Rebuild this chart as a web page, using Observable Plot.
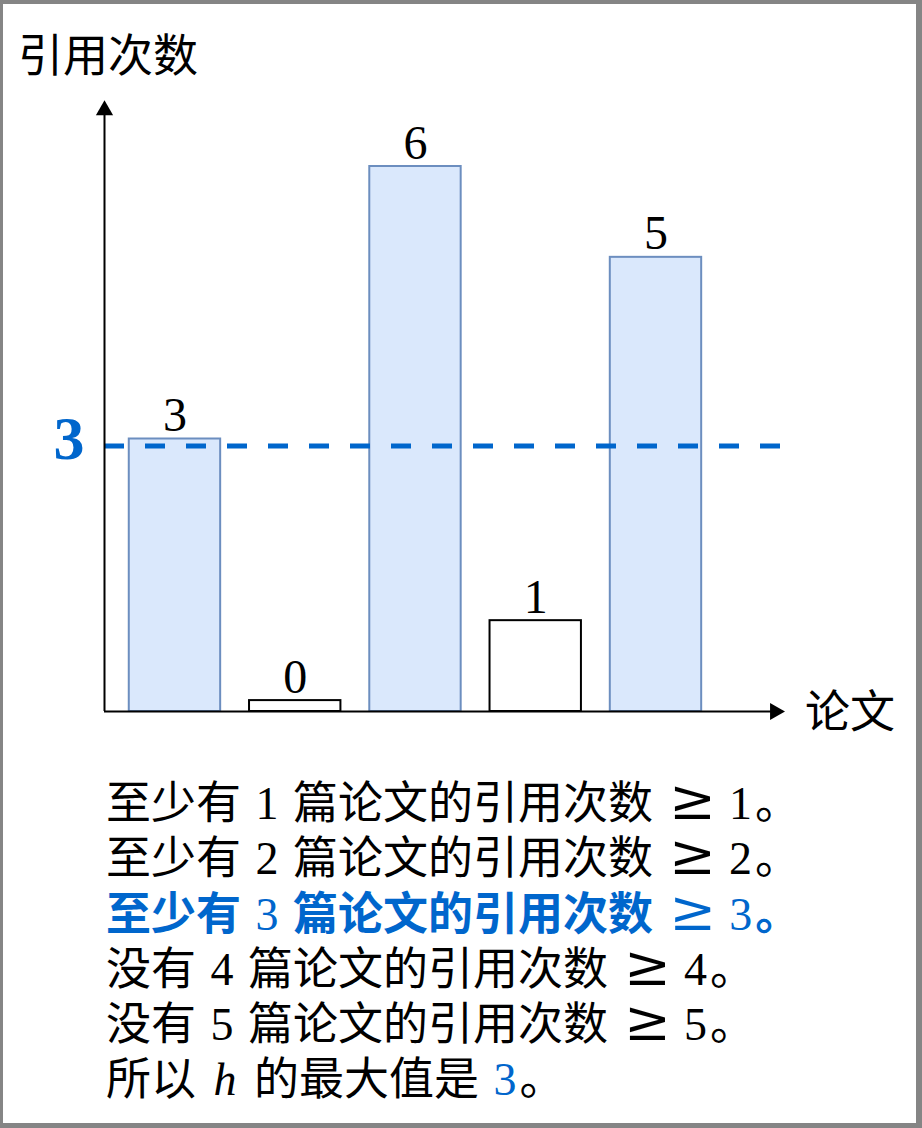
<!DOCTYPE html>
<html><head><meta charset="utf-8">
<script src="https://cdn.jsdelivr.net/npm/d3@7"></script>
<script src="https://cdn.jsdelivr.net/npm/@observablehq/plot@0.6"></script>
<style>
html,body{margin:0;padding:0;}
body{width:922px;height:1128px;background:#858585;position:relative;overflow:hidden;font-family:"Noto Sans CJK SC","Noto Sans",sans-serif;color:#000;}
#page{position:absolute;left:3px;top:4px;width:913px;height:1119px;background:#fff;}
#chart{position:absolute;left:0;top:0;}
.lbl{position:absolute;font-size:45px;line-height:45px;white-space:nowrap;}
#lines{position:absolute;left:106px;top:772px;font-size:45px;}
#lines .ln{height:55.3px;line-height:55.3px;white-space:nowrap;}
.num{font-family:"Liberation Serif","DejaVu Serif",serif;font-size:46px;font-weight:normal;margin:0 3px;line-height:40px;}
.ge{font-family:"DejaVu Serif","Liberation Serif",serif;font-size:56px;font-weight:normal;margin:0 10px 0 6px;line-height:40px;}
.it{font-style:italic;margin:0 6px;}
.hl{color:#0066cc;font-weight:bold;}
.blue{color:#0066cc;}
</style>
</head><body>
<div id="page"></div>
<div id="chart"></div>
<div class="lbl" id="ytitle" style="left:18px;top:30px;">引用次数</div>
<div class="lbl" id="xtitle" style="left:805px;top:686px;">论文</div>
<div id="lines"></div>
<script>
// ---- data ----
const papers = [1, 2, 3, 4, 5];
const citations = [3, 0, 6, 1, 5];
const hValue = 3;
const checkValues = [1, 2, 3, 4, 5];

const data = papers.map((p, i) => ({p, c: citations[i]}));
const blue = "#0066cc";
const serif = "'Liberation Serif','DejaVu Serif',serif";
const xMin = 0.414, xMax = 6.077, xHead = 5.99, yHead = 6.62;
const minBar = 0.12;

const chart = Plot.plot({
  width: 922, height: 760,
  marginLeft: 104, marginRight: 137, marginTop: 166, marginBottom: 49,
  x: {domain: [xMin, xMax], axis: null},
  y: {domain: [0, 6], axis: null},
  color: {type: "identity"},
  style: {background: "transparent", overflow: "visible"},
  marks: [
    Plot.rect(data, {
      x1: d => d.p - 0.38, x2: d => d.p + 0.38,
      y1: 0, y2: d => Math.max(d.c, minBar),
      fill: d => d.c >= hValue ? "#dae8fc" : "#ffffff",
      stroke: d => d.c >= hValue ? "#6c8ebf" : "#000000",
      strokeWidth: 2
    }),
    Plot.text(data, {
      x: "p", y: d => Math.max(d.c, minBar), text: d => String(d.c),
      lineAnchor: "bottom", dy: -8, fontSize: 48, fontFamily: serif, fill: "#000"
    }),
    Plot.ruleY([hValue], {stroke: blue, strokeWidth: 5, strokeDasharray: "20,21", dy: 7}),
    Plot.ruleY([0], {x1: xMin, x2: xHead, stroke: "#000", strokeWidth: 2}),
    Plot.ruleX([xMin], {y1: 0, y2: yHead, stroke: "#000", strokeWidth: 2}),
    Plot.dot([0], {x: xMin, y: yHead, symbol: "triangle", r: 6.4, fill: "#000", stroke: "none"}),
    Plot.dot([0], {x: xHead, y: 0, symbol: "triangle", r: 6.4, fill: "#000", stroke: "none", rotate: 90}),
    Plot.axisY([hValue], {tickSize: 0, tickPadding: 20, tickFormat: d => String(d), fontSize: 62, fontWeight: "bold", fontFamily: serif, color: blue, label: null})
  ]
});
document.getElementById("chart").appendChild(chart);

// ---- statements ----
const lines = document.getElementById("lines");
checkValues.forEach(k => {
  const n = citations.filter(c => c >= k).length;
  const prefix = n >= k ? "至少有" : "没有";
  const div = document.createElement("div");
  div.className = "ln" + (k === hValue ? " hl" : "");
  div.innerHTML = `${prefix}<span class="num">&nbsp;${k}&nbsp;</span>篇论文的引用次数 <span class="ge">≥</span><span class="num">${k}</span>。`;
  lines.appendChild(div);
});
const last = document.createElement("div");
last.className = "ln";
last.innerHTML = `所以<span class="num it">&nbsp;h&nbsp;</span>的最大值是<span class="num blue">&nbsp;${hValue}</span>。`;
lines.appendChild(last);
</script>
</body></html>
